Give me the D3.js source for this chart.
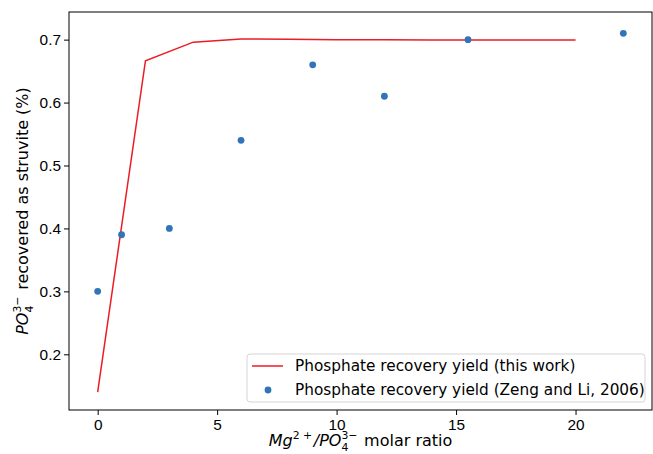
<!DOCTYPE html>
<html>
<head>
<meta charset="utf-8">
<script src="https://cdn.jsdelivr.net/npm/d3@7/dist/d3.min.js"></script>
<style>
  body { margin: 0; background: #fff; }
  svg { display: block; font-family: "DejaVu Sans", sans-serif; }
  .axis text { font-size: 15.4px; fill: #000; }
  .axis line, .axis path { stroke: #000; }
</style>
</head>
<body>
<svg id="chart" width="653" height="454"></svg>
<script>
// line: this work
const ratioModel = [0, 2, 4, 6, 8, 10, 12, 14, 16, 18, 20];
const yieldModel = [0.14, 0.6665, 0.696, 0.701, 0.7005, 0.7, 0.7, 0.6995, 0.6995, 0.6995, 0.6995];

// points: Zeng and Li, 2006
const ratioRef = [0, 1, 3, 6, 9, 12, 15.5, 22];
const yieldRef = [0.30, 0.39, 0.40, 0.54, 0.66, 0.61, 0.70, 0.71];

const xTicks = [0, 5, 10, 15, 20];
const yTicks = [0.2, 0.3, 0.4, 0.5, 0.6, 0.7];

const legendLabels = [
	"Phosphate recovery yield (this work)",
	"Phosphate recovery yield (Zeng and Li, 2006)"
];

const svg = d3.select("#chart");
const margin = {top: 12, right: 1, bottom: 44, left: 69};
const width = 653 - margin.left - margin.right;
const height = 454 - margin.top - margin.bottom;

const x = d3.scaleLinear().domain([-1.2, 23.2]).range([margin.left, margin.left + width]);
const y = d3.scaleLinear().domain([0.1115, 0.7439]).range([margin.top + height, margin.top]);

const red = "#ec1c24";
const blue = "#3274b8";

// axes
svg.append("g")
.attr("class", "axis")
.attr("transform", `translate(0, ${margin.top + height})`)
.call(d3.axisBottom(x).tickValues(xTicks).tickSize(5).tickPadding(4).tickFormat(d3.format("d")))
.call((g) => g.select(".domain").remove());

svg.append("g")
.attr("class", "axis")
.attr("transform", `translate(${margin.left}, 0)`)
.call(d3.axisLeft(y).tickValues(yTicks).tickSize(5).tickPadding(3).tickFormat(d3.format(".1f")))
.call((g) => g.select(".domain").remove());

// frame
svg.append("rect")
.attr("x", margin.left)
.attr("y", margin.top)
.attr("width", width)
.attr("height", height)
.attr("fill", "none")
.attr("stroke", "#000")
.attr("stroke-width", 1);

// model line
const line = d3.line()
.x((d, i) => x(ratioModel[i]))
.y((d) => y(d));

svg.append("path")
.datum(yieldModel)
.attr("d", line)
.attr("fill", "none")
.attr("stroke", red)
.attr("stroke-width", 1.5);

// reference points
svg.selectAll(".dot")
.data(yieldRef)
.enter()
.append("circle")
.attr("class", "dot")
.attr("cx", (d, i) => x(ratioRef[i]))
.attr("cy", (d) => y(d))
.attr("r", 3.4)
.attr("fill", blue);

/**
 * math-like label: italic runs and stacked sub/sup
 * parts: {t, it} plain runs or {sub, sup} stacked scripts
 */
const mathLabel = (textSel, parts, size) => {
	const small = size * 0.68;
	parts.forEach((p) => {
		if (p.t !== undefined) {
			textSel.append("tspan")
			.attr("font-style", p.it ? "italic" : null)
			.text(p.t);
			return;
		}
		const sup = textSel.append("tspan")
		.attr("font-size", small)
		.attr("dy", -size * 0.45)
		.text(p.sup);
		const supW = sup.node().getComputedTextLength();
		if (p.sub) {
			const sub = textSel.append("tspan")
			.attr("font-size", small)
			.attr("dx", -supW)
			.attr("dy", size * 0.74)
			.text(p.sub);
			const subW = sub.node().getComputedTextLength();
			textSel.append("tspan")
			.attr("dy", -size * 0.29)
			.attr("dx", Math.max(supW - subW, 0))
			.text("\u200a");
		} else {
			textSel.append("tspan")
			.attr("dy", size * 0.45)
			.text("\u200a");
		}
	});
};

const xLabel = svg.append("text")
.attr("x", margin.left + width / 2)
.attr("y", 446)
.attr("text-anchor", "middle")
.attr("font-size", 16);
mathLabel(xLabel, [
	{t: "Mg", it: true},
	{sup: "2 +"},
	{t: "/PO", it: true},
	{sub: "4", sup: "3\u2212"},
	{t: " molar ratio"}
], 16);

const yLabel = svg.append("text")
.attr("transform", `translate(28, ${margin.top + height / 2}) rotate(-90)`)
.attr("text-anchor", "middle")
.attr("font-size", 16);
mathLabel(yLabel, [
	{t: "PO", it: true},
	{sub: "4", sup: "3\u2212"},
	{t: "  recovered as struvite (%)"}
], 16);

// legend
const legend = svg.append("g").attr("transform", "translate(247, 354)");

legend.append("rect")
.attr("width", 398)
.attr("height", 48)
.attr("rx", 3)
.attr("fill", "#fff")
.attr("fill-opacity", 0.8)
.attr("stroke", "#d5d5d5");

legend.append("line")
.attr("x1", 5)
.attr("x2", 36)
.attr("y1", 12)
.attr("y2", 12)
.attr("stroke", red)
.attr("stroke-width", 1.5);

legend.append("circle")
.attr("cx", 21)
.attr("cy", 36)
.attr("r", 3.4)
.attr("fill", blue);

legend.selectAll(".lbl")
.data(legendLabels)
.enter()
.append("text")
.attr("class", "lbl")
.attr("x", 48)
.attr("y", (d, i) => 17 + i * 24)
.attr("font-size", 15.3)
.text((d) => d);
</script>
</body>
</html>
